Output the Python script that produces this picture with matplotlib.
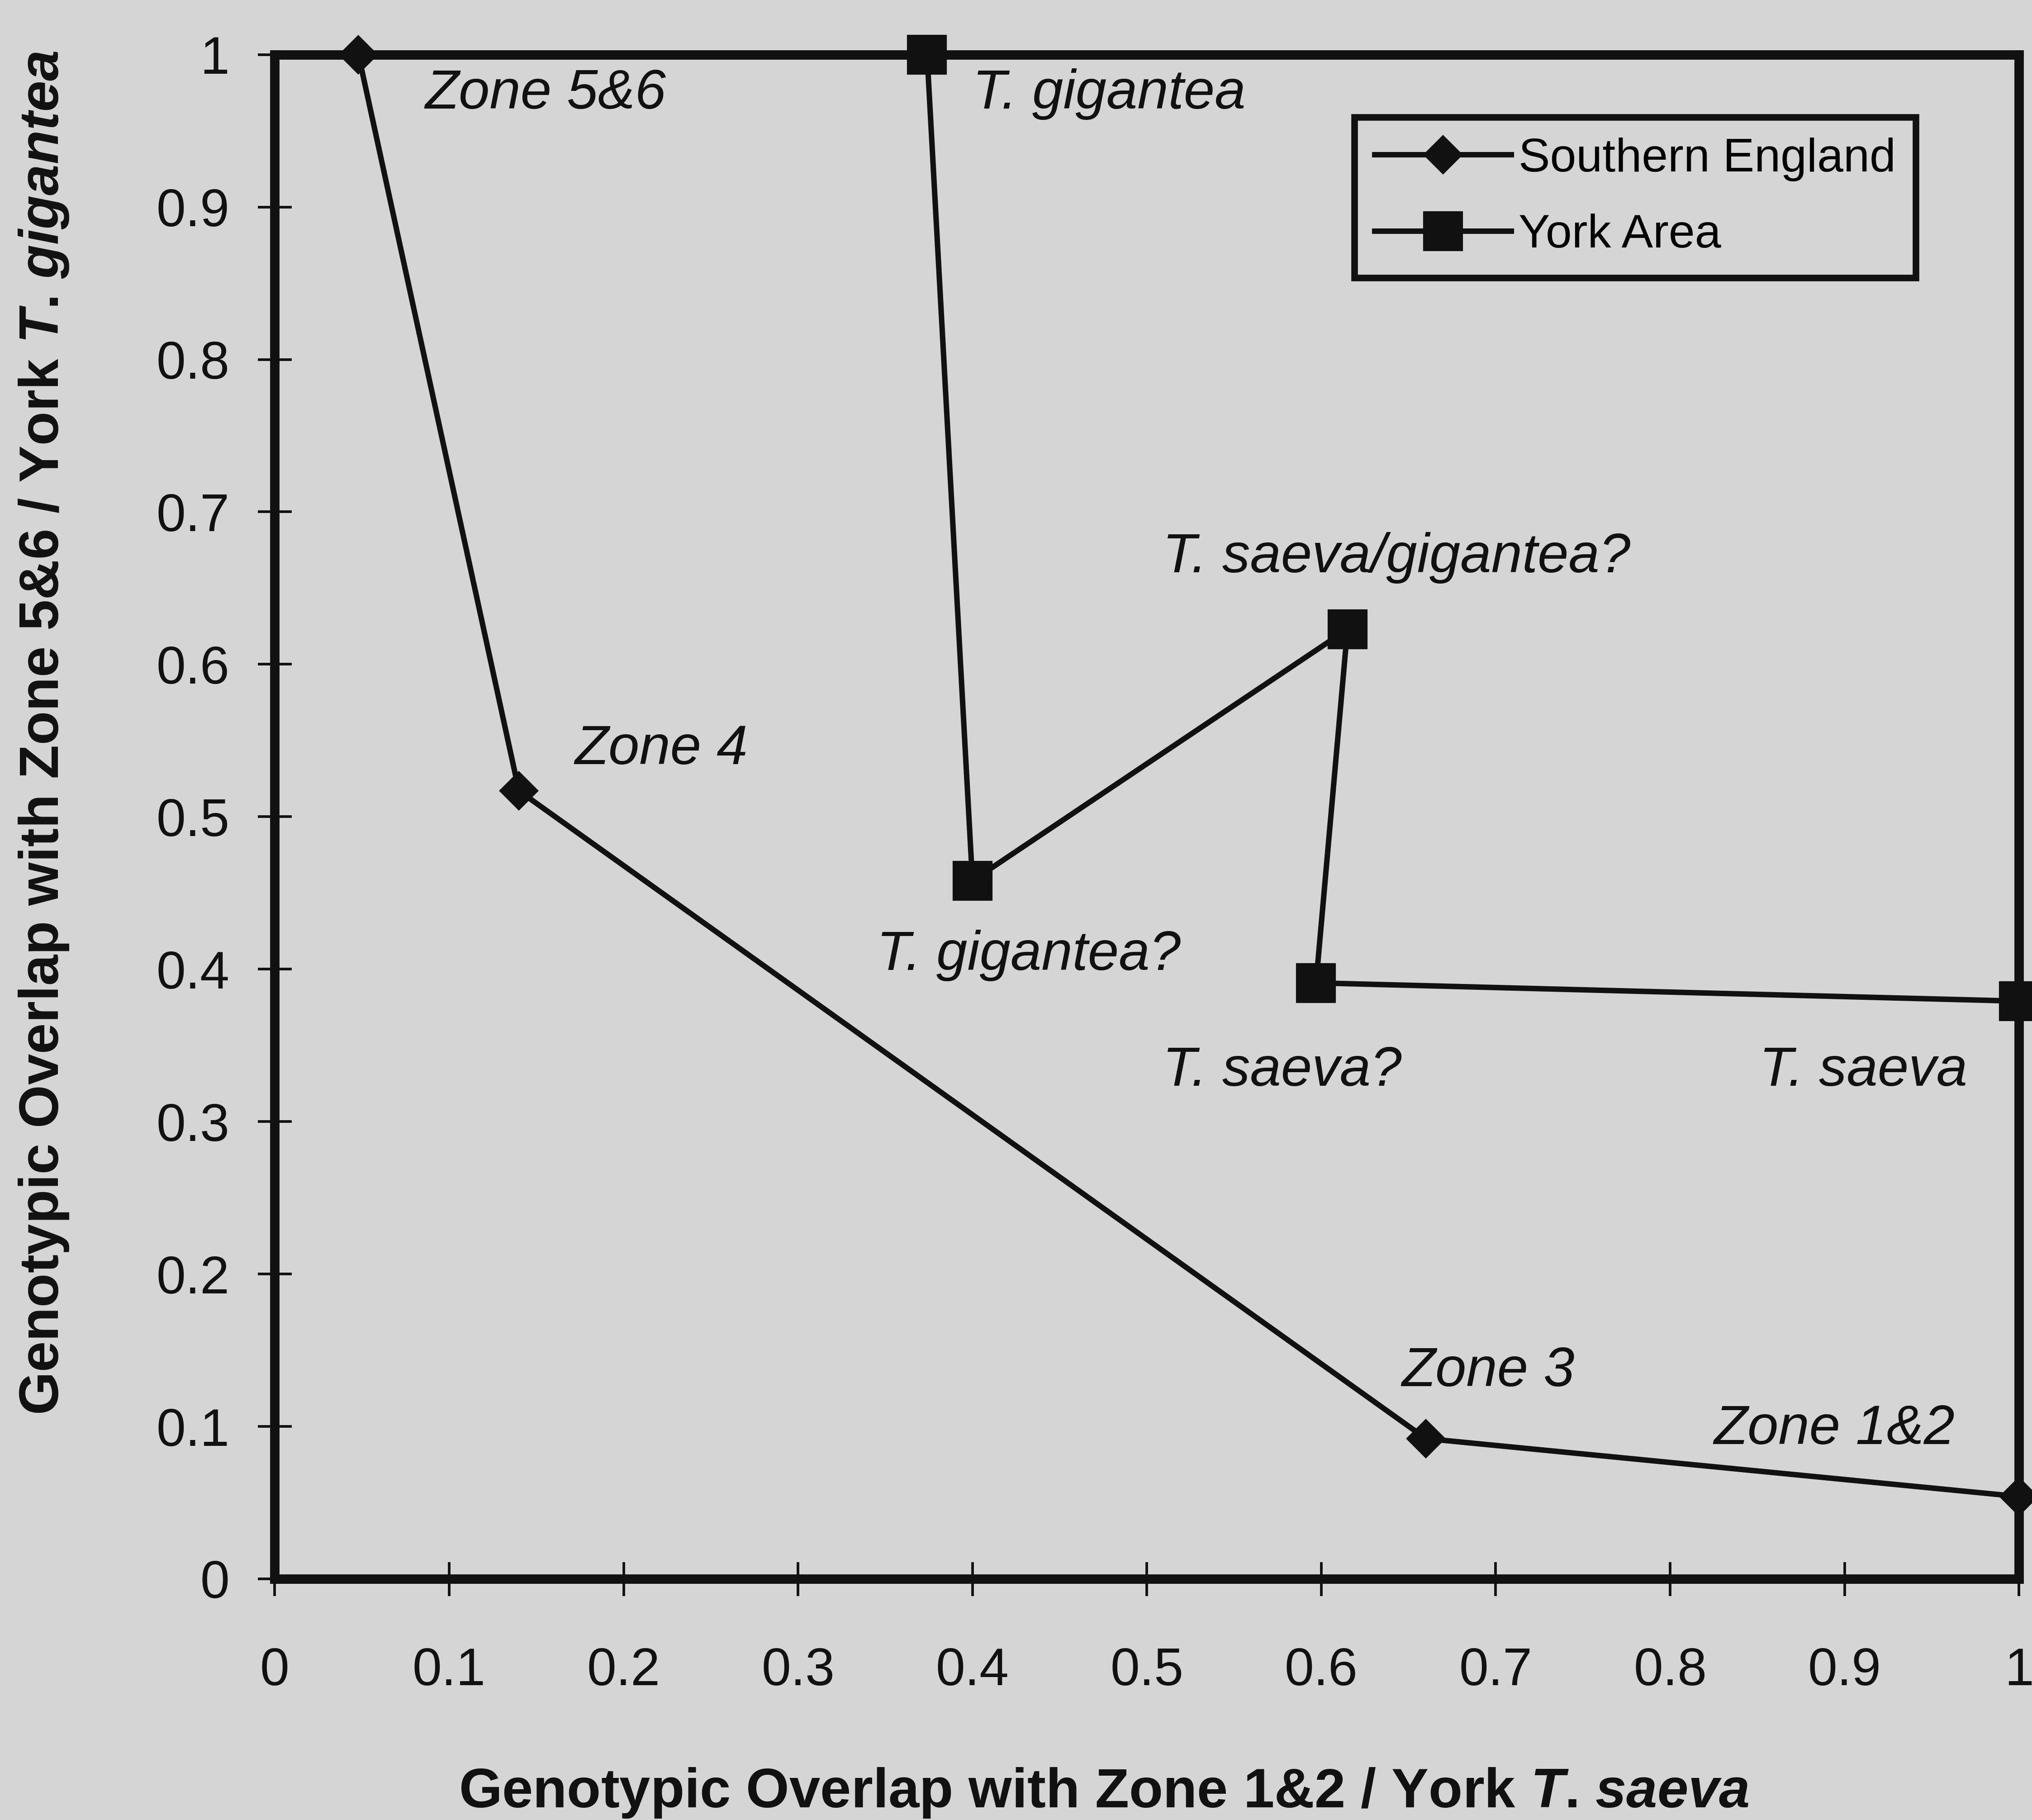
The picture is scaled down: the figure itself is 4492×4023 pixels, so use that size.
import matplotlib
matplotlib.use('Agg')
import matplotlib.pyplot as plt

# values
south_x = [0.048, 0.140, 0.660, 1.0]
south_y = [1.0, 0.517, 0.092, 0.054]
south_labels = ['Zone 5&6', 'Zone 4', 'Zone 3', 'Zone 1&2']

york_x = [0.374, 0.400, 0.615, 0.597, 1.0]
york_y = [1.0, 0.458, 0.623, 0.391, 0.379]
york_labels = ['T. gigantea', 'T. gigantea?', 'T. saeva/gigantea?', 'T. saeva?', 'T. saeva']

# label anchor positions (left edge, vertical centre), data units
south_label_pos = [(0.086, 0.974), (0.172, 0.544), (0.646, 0.136), (0.825, 0.098)]
york_label_pos = [(0.400, 0.974), (0.345, 0.409), (0.509, 0.670), (0.509, 0.333), (0.851, 0.333)]

ticks = [0, 0.1, 0.2, 0.3, 0.4, 0.5, 0.6, 0.7, 0.8, 0.9, 1]
tick_labels = ['0', '0.1', '0.2', '0.3', '0.4', '0.5', '0.6', '0.7', '0.8', '0.9', '1']

bg = '#d5d5d5'
ink = '#111111'

plt.rcParams['font.family'] = ['Liberation Sans', 'DejaVu Sans']
plt.rcParams['mathtext.fontset'] = 'custom'
plt.rcParams['mathtext.it'] = 'Liberation Sans:italic:bold'
plt.rcParams['mathtext.rm'] = 'Liberation Sans:bold'

fig = plt.figure(figsize=(4492 / 300, 4023 / 300), dpi=300, facecolor=bg)
ax = fig.add_axes([0.1352, 0.1325, 0.8584, 0.8375], facecolor=bg)

ax.plot(south_x, south_y, color=ink, lw=2.9, marker='D', ms=14,
        mfc=ink, mec=ink, label='Southern England', clip_on=False, zorder=5)
ax.plot(york_x, york_y, color=ink, lw=2.9, marker='s', ms=20,
        mfc=ink, mec=ink, label='York Area', clip_on=False, zorder=5)

for txt, (x, y) in zip(south_labels, south_label_pos):
    ax.text(x, y, txt, fontsize=29.5, style='italic', color=ink, va='center', ha='left')
for txt, (x, y) in zip(york_labels, york_label_pos):
    ax.text(x, y, txt, fontsize=29.5, style='italic', color=ink, va='center', ha='left')

ax.set_xlim(0, 1)
ax.set_ylim(0, 1)
ax.set_xticks(ticks)
ax.set_xticklabels(tick_labels)
ax.set_yticks(ticks)
ax.set_yticklabels(tick_labels)
ax.tick_params(axis='both', direction='inout', length=18, width=1.4, color=ink,
               labelsize=28, labelcolor=ink)
ax.tick_params(axis='x', pad=27)
ax.tick_params(axis='y', pad=15)

for s in ax.spines.values():
    s.set_linewidth(5)
    s.set_color(ink)

ax.set_xlabel(r'Genotypic Overlap with Zone 1&2 / York $T$. $saeva$',
              fontsize=29.5, fontweight='bold', color=ink)
ax.set_ylabel(r'Genotypic Overlap with Zone 5&6 / York $T$. $gigantea$',
              fontsize=29.5, fontweight='bold', color=ink)
ax.xaxis.set_label_coords(0.4755, -0.123)
ax.yaxis.set_label_coords(-0.117, 0.555)

leg = ax.legend(loc='upper left', bbox_to_anchor=(0.619, 0.959), fontsize=25,
                handlelength=2.9, handletextpad=0.15, borderpad=0.43,
                labelspacing=0.69, fancybox=False, framealpha=1, borderaxespad=0)
leg.get_frame().set_facecolor(bg)
leg.get_frame().set_edgecolor(ink)
leg.get_frame().set_linewidth(3.5)

fig.savefig('out.png', dpi=300, facecolor=bg)
